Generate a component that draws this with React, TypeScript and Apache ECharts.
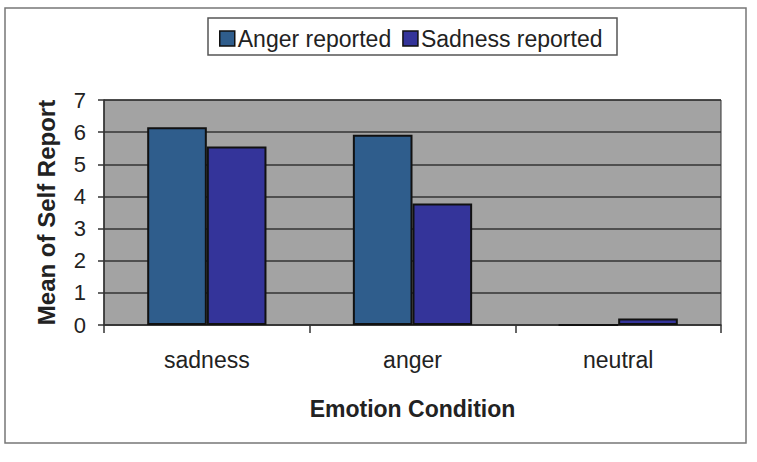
import React, { useEffect, useRef } from "react";
import * as echarts from "echarts";

const categories = ["sadness", "anger", "neutral"];
const angerReported = [6.15, 5.92, 0];
const sadnessReported = [5.55, 3.78, 0.2];
const yTicks = [0, 1, 2, 3, 4, 5, 6, 7];

export default function App() {
  const ref = useRef<HTMLDivElement>(null);
  useEffect(() => {
    if (!ref.current) return;
    const chart = echarts.init(ref.current, null, { renderer: "svg" });
    const font = "Liberation Sans, Arial, sans-serif";
    chart.setOption({
      animation: false,
      backgroundColor: "#ffffff",
      graphic: [
        {
          type: "rect",
          shape: { x: 5, y: 8, width: 741, height: 435 },
          style: { fill: "none", stroke: "#777", lineWidth: 1.5 },
          silent: true,
        },
        {
          type: "rect",
          shape: { x: 208, y: 18, width: 409, height: 37 },
          style: { fill: "#fff", stroke: "#555", lineWidth: 1.5 },
          silent: true,
          z: -1,
        },
      ],
      legend: {
        top: 22,
        left: 214,
        itemWidth: 15,
        itemHeight: 15,
        itemGap: 11,
        data: ["Anger reported", "Sadness reported"],
        textStyle: { fontFamily: font, fontSize: 23, color: "#222", padding: [0, 0, 0, -2] },
        icon: "rect",
        itemStyle: { borderColor: "#111", borderWidth: 1.5 },
      },
      grid: { left: 104, right: 36, top: 100, bottom: 137, backgroundColor: "#a3a3a3", show: true, borderColor: "#333", borderWidth: 1 },
      xAxis: {
        type: "category",
        data: categories,
        name: "Emotion Condition",
        nameLocation: "middle",
        nameGap: 72,
        nameTextStyle: { fontFamily: font, fontSize: 23, fontWeight: "bold", color: "#222" },
        axisLine: { lineStyle: { color: "#333", width: 1.5 } },
        axisTick: { show: true, length: 8, lineStyle: { color: "#333", width: 1.5 } },
        axisLabel: { fontFamily: font, fontSize: 23, color: "#222", margin: 23 },
      },
      yAxis: {
        type: "value",
        min: 0,
        max: 7,
        interval: 1,
        name: "Mean of Self Report",
        nameLocation: "middle",
        nameGap: 46,
        nameTextStyle: { fontFamily: font, fontSize: 24, fontWeight: "bold", color: "#222" },
        axisLine: { show: true, lineStyle: { color: "#333", width: 1.5 } },
        axisTick: { show: true, length: 6, lineStyle: { color: "#333", width: 1.5 } },
        axisLabel: { fontFamily: font, fontSize: 22, color: "#222", margin: 18, formatter: (v: number) => (yTicks.includes(v) ? String(v) : "") },
        splitLine: { show: true, lineStyle: { color: "#333", width: 1.5 } },
      },
      series: [
        {
          name: "Anger reported",
          type: "bar",
          data: angerReported,
          barGap: "0%",
          barCategoryGap: "42%",
          itemStyle: { color: "#2f5d8c", borderColor: "#111", borderWidth: 2 },
        },
        {
          name: "Sadness reported",
          type: "bar",
          data: sadnessReported,
          itemStyle: { color: "#34349a", borderColor: "#111", borderWidth: 2 },
        },
      ],
    });
    return () => chart.dispose();
  }, []);
  return <div ref={ref} style={{ position: "fixed", left: 0, top: 0, width: 757, height: 462 }} />;
}
